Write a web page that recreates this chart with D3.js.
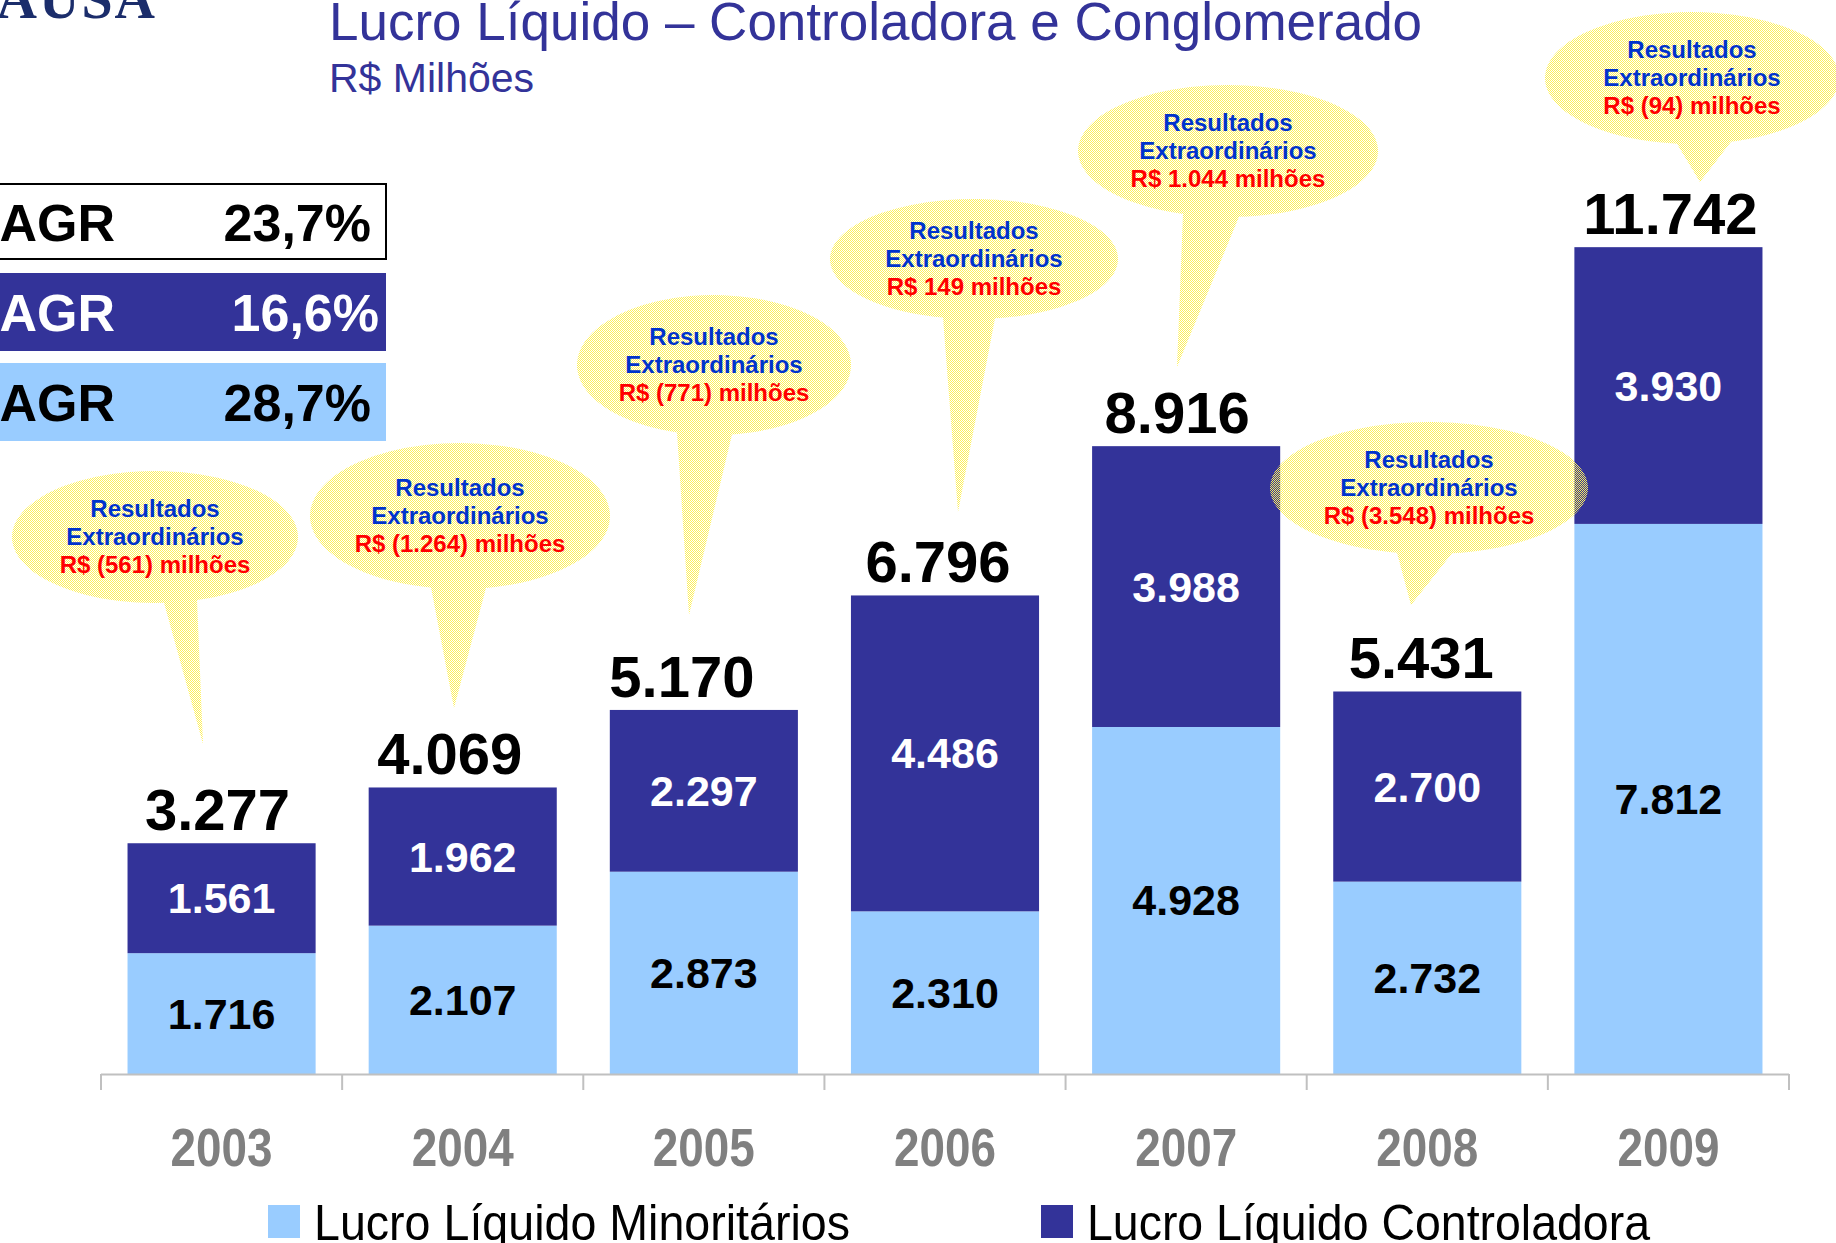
<!DOCTYPE html>
<html>
<head>
<meta charset="utf-8">
<script src="https://cdn.jsdelivr.net/npm/d3@7"></script>
<style>
  body { margin: 0; background: #fff; }
  svg { display: block; }
</style>
</head>
<body>
<div id="chart"></div>
<script>
// Lucro Liquido - stacked bars
var years = ["2003", "2004", "2005", "2006", "2007", "2008", "2009"];
var minoritarios = [1716, 2107, 2873, 2310, 4928, 2732, 7812];
var controladora = [1561, 1962, 2297, 4486, 3988, 2700, 3930];
var totais = [3277, 4069, 5170, 6796, 8916, 5431, 11742];
var extraordinarios = ["(561)", "(1.264)", "(771)", "149", "1.044", "(3.548)", "(94)"];
var cagrValues = ["23,7%", "16,6%", "28,7%"];
var legendLabels = ["Lucro Líquido Minoritários", "Lucro Líquido Controladora"];

var width = 1836, height = 1243;
var dark = "#333399", light = "#99ccff";

var ptBR = d3.formatLocale({ decimal: ",", thousands: ".", grouping: [3], currency: ["R$", ""] });
var fmt = ptBR.format(",d");

var svg = d3.select("#chart")
    .append("svg")
    .attr("width", width)
    .attr("height", height);

// dithered yellow fill for the balloons (half the pixels are see-through)
var pat = svg.append("defs").append("pattern")
    .attr("id", "dither")
    .attr("width", 2).attr("height", 2)
    .attr("patternUnits", "userSpaceOnUse");
pat.append("rect").attr("x", 0).attr("y", 0).attr("width", 1).attr("height", 1).attr("fill", "#fdf05a");
pat.append("rect").attr("x", 1).attr("y", 1).attr("width", 1).attr("height", 1).attr("fill", "#fdf05a");

// logo remnant (top left, cut off)
svg.append("text")
    .attr("x", 157).attr("y", 18)
    .attr("text-anchor", "end")
    .attr("font-family", "Liberation Serif, serif")
    .attr("font-weight", "bold")
    .attr("font-size", "56px")
    .attr("letter-spacing", "2px")
    .attr("fill", "#1b2d6b")
    .text("ITAUSA");

// Title
svg.append("text")
    .attr("x", 329).attr("y", 40)
    .attr("font-family", "Liberation Sans, Arial, sans-serif")
    .attr("font-size", "53px")
    .attr("fill", dark)
    .text("Lucro Líquido – Controladora e Conglomerado");
svg.append("text")
    .attr("x", 329).attr("y", 92)
    .attr("font-family", "Liberation Sans, Arial, sans-serif")
    .attr("font-size", "41px")
    .attr("fill", dark)
    .text("R$ Milhões");

// Scales
var x = d3.scaleBand()
    .domain(years)
    .range([101, 1789])
    .paddingInner(0.22)
    .paddingOuter(0.11);

var y = d3.scaleLinear()
    .domain([0, 12000])
    .range([1074, 229]);

var rows = years.map(function (yr, i) {
    return { year: yr, min: minoritarios[i], ctrl: controladora[i] };
});
var stack = d3.stack().keys(["min", "ctrl"])(rows);
var colors = { min: light, ctrl: dark };
var textColors = { min: "#000", ctrl: "#fff" };

// Bars
stack.forEach(function (layer) {
    svg.append("g").selectAll("rect")
        .data(layer)
        .enter()
        .append("rect")
        .attr("x", function (d) { return x(d.data.year); })
        .attr("width", x.bandwidth())
        .attr("y", function (d) { return y(d[1]); })
        .attr("height", function (d) { return y(d[0]) - y(d[1]); })
        .attr("fill", colors[layer.key]);
});

// Axis line and ticks at band boundaries
var step = x.step();
var x0 = x.range()[0];
svg.append("line")
    .attr("x1", x0).attr("x2", x.range()[1])
    .attr("y1", y(0) + 0.5).attr("y2", y(0) + 0.5)
    .attr("stroke", "#c0c0c0").attr("stroke-width", 2);
d3.range(years.length + 1).forEach(function (k) {
    svg.append("line")
        .attr("x1", x0 + k * step).attr("x2", x0 + k * step)
        .attr("y1", y(0)).attr("y2", y(0) + 16)
        .attr("stroke", "#c0c0c0").attr("stroke-width", 2);
});

// Year labels
svg.append("g").selectAll("text")
    .data(years)
    .enter()
    .append("text")
    .attr("x", function (d) { return x(d) + x.bandwidth() / 2; })
    .attr("y", 1166)
    .attr("text-anchor", "middle")
    .attr("font-family", "Liberation Sans Narrow, Liberation Sans, Arial, sans-serif")
    .attr("font-weight", "bold")
    .attr("font-size", "54px")
    .attr("fill", "#808080")
    .attr("textLength", 102)
    .attr("lengthAdjust", "spacingAndGlyphs")
    .text(function (d) { return d; });

// Balloons (annotation geometry, full-size pixels)
var balloonLayout = [
    { cx: 155, cy: 537, rx: 143, ry: 66, b0: 9, b1: 42, tx: 203, ty: 744 },
    { cx: 460, cy: 516, rx: 150, ry: 73, b0: -29, b1: 26, tx: 454, ty: 708 },
    { cx: 714, cy: 365, rx: 137, ry: 70, b0: -37, b1: 18, tx: 689, ty: 615 },
    { cx: 974, cy: 259, rx: 144, ry: 60, b0: -31, b1: 21, tx: 958, ty: 512 },
    { cx: 1228, cy: 151, rx: 150, ry: 66, b0: -45, b1: 11, tx: 1177, ty: 367 },
    { cx: 1429, cy: 488, rx: 159, ry: 66, b0: -32, b1: 23, tx: 1411, ty: 605 },
    { cx: 1692, cy: 78, rx: 147, ry: 66, b0: -15, b1: 39, tx: 1700, ty: 182 }
];

function balloonPath(b) {
    function yAt(dx) { return b.cy + b.ry * Math.sqrt(1 - (dx / b.rx) * (dx / b.rx)); }
    var lx = b.cx + b.b0, ly = yAt(b.b0);
    var rx = b.cx + b.b1, ry = yAt(b.b1);
    return "M" + lx + "," + ly +
        "L" + b.tx + "," + b.ty +
        "L" + rx + "," + ry +
        "A" + b.rx + "," + b.ry + " 0 1 0 " + lx + "," + ly + "Z";
}

var balloons = svg.append("g").selectAll("g")
    .data(extraordinarios)
    .enter()
    .append("g");

balloons.append("path")
    .attr("d", function (d, i) { return balloonPath(balloonLayout[i]); })
    .attr("fill", "url(#dither)");

var lineGap = 28;
balloons.each(function (d, i) {
    var b = balloonLayout[i];
    var g = d3.select(this);
    var lines = [
        { t: "Resultados", c: "#0033cc" },
        { t: "Extraordinários", c: "#0033cc" },
        { t: "R$ " + d + " milhões", c: "#ff0000" }
    ];
    lines.forEach(function (l, k) {
        g.append("text")
            .attr("x", b.cx)
            .attr("y", b.cy + (k - 1) * lineGap + 8)
            .attr("text-anchor", "middle")
            .attr("font-family", "Liberation Sans, Arial, sans-serif")
            .attr("font-weight", "bold")
            .attr("font-size", "24px")
            .attr("fill", l.c)
            .text(l.t);
    });
});

// Segment labels
stack.forEach(function (layer) {
    svg.append("g").selectAll("text")
        .data(layer)
        .enter()
        .append("text")
        .attr("x", function (d) { return x(d.data.year) + x.bandwidth() / 2; })
        .attr("y", function (d) { return (y(d[0]) + y(d[1])) / 2 + 15; })
        .attr("text-anchor", "middle")
        .attr("font-family", "Liberation Sans, Arial, sans-serif")
        .attr("font-weight", "bold")
        .attr("font-size", "43px")
        .attr("fill", textColors[layer.key])
        .text(function (d) { return fmt(d.data[layer.key]); });
});

// Totals above bars (small hand nudges as in the slide)
var totalNudge = [-4, -13, -22, -7, -9, -6, 2];
svg.append("g").selectAll("text")
    .data(stack[1])
    .enter()
    .append("text")
    .attr("x", function (d, i) { return x(d.data.year) + x.bandwidth() / 2 + totalNudge[i]; })
    .attr("y", function (d) { return y(d[1]) - 13; })
    .attr("text-anchor", "middle")
    .attr("font-family", "Liberation Sans, Arial, sans-serif")
    .attr("font-weight", "bold")
    .attr("font-size", "58px")
    .attr("fill", "#000")
    .text(function (d, i) { return fmt(totais[i]); });

// CAGR boxes
var cagrBoxes = [
    { y0: 184, y1: 259, fill: "#fff", stroke: "#000", text: "#000", right: 371 },
    { y0: 273, y1: 351, fill: dark, stroke: "none", text: "#fff", right: 379 },
    { y0: 363, y1: 441, fill: light, stroke: "none", text: "#000", right: 371 }
];
cagrValues.forEach(function (v, i) {
    var b = cagrBoxes[i];
    svg.append("rect")
        .attr("x", -4).attr("y", b.y0)
        .attr("width", 390).attr("height", b.y1 - b.y0)
        .attr("fill", b.fill)
        .attr("stroke", b.stroke)
        .attr("stroke-width", 2);
    var base = (b.y0 + b.y1) / 2 + 19;
    svg.append("text")
        .attr("x", -38).attr("y", base)
        .attr("font-family", "Liberation Sans, Arial, sans-serif")
        .attr("font-weight", "bold")
        .attr("font-size", "52px")
        .attr("fill", b.text)
        .text("CAGR");
    svg.append("text")
        .attr("x", b.right).attr("y", base)
        .attr("text-anchor", "end")
        .attr("font-family", "Liberation Sans, Arial, sans-serif")
        .attr("font-weight", "bold")
        .attr("font-size", "52px")
        .attr("fill", b.text)
        .text(v);
});

// Legend
var legendItems = [
    { sx: 268, tx: 314, w: 536, color: light },
    { sx: 1041, tx: 1087, w: 563, color: dark }
];
legendLabels.forEach(function (lab, i) {
    var it = legendItems[i];
    svg.append("rect")
        .attr("x", it.sx).attr("y", 1205)
        .attr("width", 32).attr("height", 33)
        .attr("fill", it.color);
    svg.append("text")
        .attr("x", it.tx).attr("y", 1240)
        .attr("font-family", "Liberation Sans Narrow, Liberation Sans, Arial, sans-serif")
        .attr("font-size", "50px")
        .attr("fill", "#000")
        .attr("textLength", it.w)
        .attr("lengthAdjust", "spacingAndGlyphs")
        .text(lab);
});
</script>
</body>
</html>
